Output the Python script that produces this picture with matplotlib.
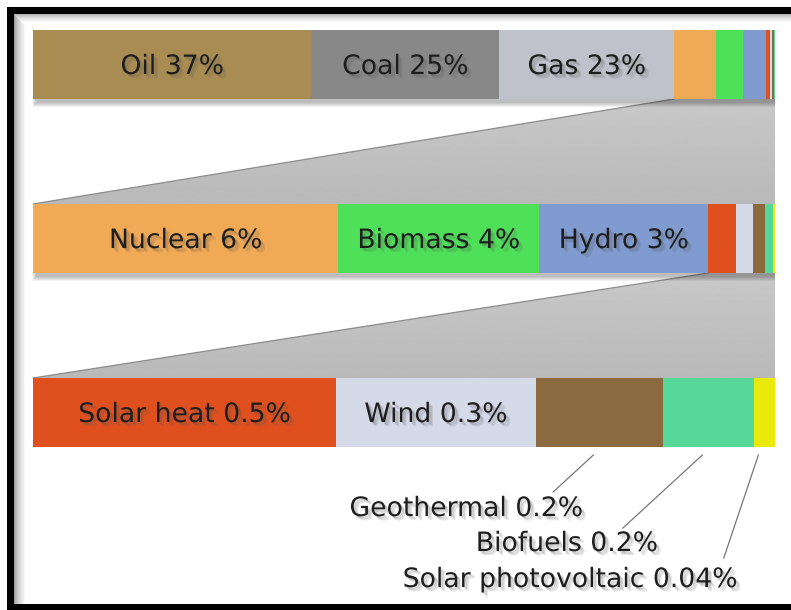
import matplotlib
matplotlib.use("Agg")
import matplotlib.pyplot as plt
from matplotlib.patches import Rectangle, Polygon
import matplotlib.patheffects as pe
import numpy as np

# ---------------- data ----------------
sources = ["Oil", "Coal", "Gas", "Nuclear", "Biomass", "Hydro", "Solar heat",
           "Wind", "Geothermal", "Biofuels", "Solar photovoltaic"]
shares = [37.6, 25.4, 23.6, 5.6, 3.7, 3.1, 0.5, 0.33, 0.21, 0.15, 0.035]
pct_labels = ["37%", "25%", "23%", "6%", "4%", "3%", "0.5%", "0.3%",
              "0.2%", "0.2%", "0.04%"]
colors = ["#a88c52", "#888888", "#bfc2ca", "#f0a955", "#4fe05a", "#7f9bcf",
          "#e0501e", "#d4dae8", "#8c6a40", "#55d89a", "#eaea0a"]
row_starts = [0, 3, 6]            # first source shown in each zoom row
inside_labels = [[0, 1, 2], [3, 4, 5], [6, 7]]
callouts = [8, 9, 10]

# ---------------- figure ----------------
W, H = 791, 610
fig = plt.figure(figsize=(W / 100, H / 100), dpi=100)
fig.patch.set_facecolor("white")

# decorative frame (pixel coordinates)
bg = fig.add_axes([0, 0, 1, 1])
bg.set_xlim(0, W)
bg.set_ylim(H, 0)
bg.axis("off")
for i in range(12):
    g = 0.62 + 0.38 * (i / 11) ** 0.7
    bg.add_patch(Rectangle((14 + i, 14), 1, H - 20, color=(g, g, g), lw=0))
for i in range(9):
    g = 0.70 + 0.30 * (i / 8) ** 0.7
    bg.add_patch(Rectangle((14 + i, 14 + i), W - 14, 1, color=(g, g, g), lw=0))
bg.add_patch(Rectangle((7, 7), W - 7, 7, color="black", lw=0))
bg.add_patch(Rectangle((7, 7), 7, H - 7, color="black", lw=0))
bg.add_patch(Rectangle((7, 604), W - 7, 6, color="black", lw=0))

# main axes: x = fraction of row, y = row index
h = 69 / 174
ax = fig.add_axes([33 / W, (H - 447) / H, 742 / W, 417 / H])
ax.patch.set_alpha(0)
ax.axis("off")
px = 1 / 742   # one pixel in x data units
py = 1 / 174   # one pixel in y data units
FS = 19.2

shadow_fx = [pe.SimplePatchShadow(offset=(3, -3), shadow_rgbFace="#555555", alpha=0.14),
             pe.SimplePatchShadow(offset=(2, -2), shadow_rgbFace="#555555", alpha=0.18),
             pe.SimplePatchShadow(offset=(1, -1), shadow_rgbFace="#555555", alpha=0.14),
             pe.Normal()]

lefts_rows = []
fracs_rows = []
for r, s in enumerate(row_starts):
    vals = np.array(shares[s:], dtype=float)
    fr = vals / vals.sum()
    lefts = np.cumsum(fr) - fr
    lefts_rows.append(lefts)
    fracs_rows.append(fr)
    ax.barh(r, fr, left=lefts, height=h, color=colors[s:], linewidth=0, zorder=3)
    # soft shadow under each bar
    for k in range(5):
        ax.add_patch(Rectangle((3 * px - k * px, r - h / 2 + 4 * py - k * py),
                               1 + 2 * k * px, h + 2 * k * py,
                               facecolor="black", alpha=0.055, lw=0, zorder=2))
    for i in inside_labels[r]:
        j = i - s
        ax.text(lefts[j] + fr[j] / 2, r + 9.5 * py, f"{sources[i]} {pct_labels[i]}",
                ha="center", va="baseline", fontsize=FS, color="#1e1e1e",
                zorder=5, path_effects=shadow_fx)

# zoom trapezoids between rows
grad = np.linspace(0.785, 0.725, 100).reshape(-1, 1)
for r in range(len(row_starts) - 1):
    j = row_starts[r + 1] - row_starts[r]
    xs = lefts_rows[r][j]
    pts = [(xs, r + h / 2), (1, r + h / 2), (1, r + 1 - h / 2), (0, r + 1 - h / 2)]
    poly = Polygon(pts, closed=True, facecolor="none", edgecolor="none", zorder=1)
    ax.add_patch(poly)
    im = ax.imshow(grad, cmap="gray", vmin=0, vmax=1, aspect="auto",
                   extent=(0, 1, r + 1 - h / 2, r + h / 2), zorder=1,
                   interpolation="bilinear")
    im.set_clip_path(poly)
    ax.plot([xs, 0], [r + h / 2, r + 1 - h / 2], color="#8c8c8c", lw=0.9, zorder=1.5)
    ax.plot([1, 1], [r + h / 2, r + 1 - h / 2], color="#b0b0b0", lw=0.8, zorder=1.5)

# call-outs for the smallest sources
last = len(row_starts) - 1
label_pos = [(0.741, 2.595), (0.842, 2.796), (0.949, 3.003)]
line_end = [(0.701, 2.457), (0.795, 2.664), (0.931, 2.836)]
s = row_starts[last]
for (i, (tx, ty), (ex, ey)) in zip(callouts, label_pos, line_end):
    j = i - s
    cx = lefts_rows[last][j] + fracs_rows[last][j] / 2 - 6 * px
    ax.plot([cx, ex], [last + h / 2 + 8 * py, ey], color="#777777", lw=0.9,
            zorder=4, clip_on=False)
    ax.text(tx, ty, f"{sources[i]} {pct_labels[i]}", ha="right", va="baseline",
            fontsize=FS, color="#1e1e1e", zorder=5, clip_on=False,
            path_effects=shadow_fx)

ax.set_xlim(0, 1)
ax.set_ylim(last + h / 2, -h / 2)

fig.savefig("out.png", dpi=100, facecolor="white")
